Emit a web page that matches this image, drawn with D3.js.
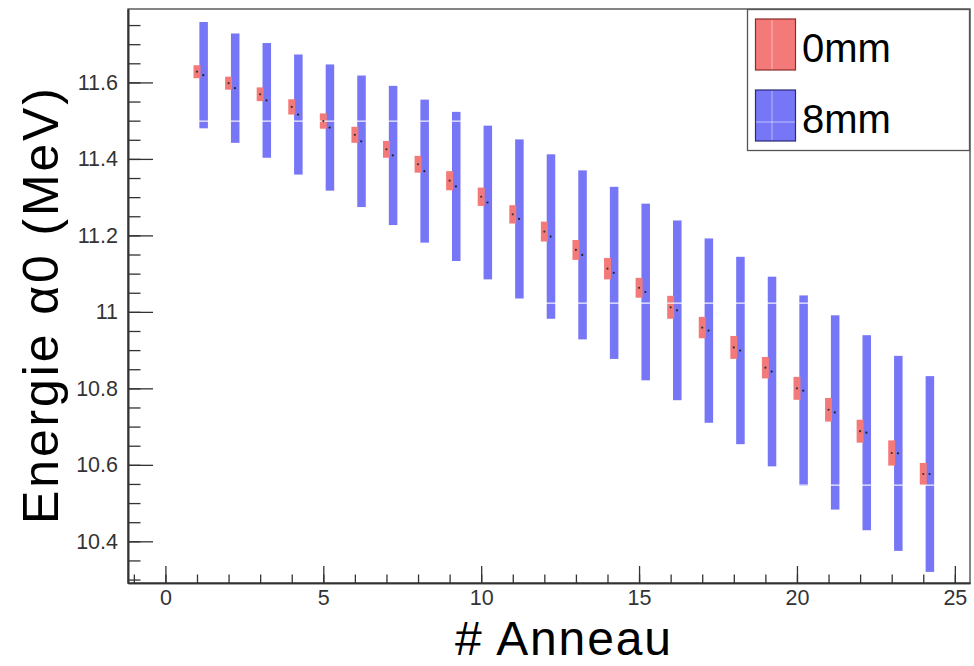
<!DOCTYPE html>
<html>
<head>
<meta charset="utf-8">
<script src="https://cdn.jsdelivr.net/npm/d3@7"></script>
<style>
  html, body { margin: 0; padding: 0; background: #fff; }
  svg { display: block; }
  text { font-family: "Liberation Sans", Arial, Helvetica, sans-serif; }
</style>
</head>
<body>
<svg id="chart" width="974" height="666"></svg>
<script>
// ---- data ----
const rings = d3.range(1, 25);
const energy0mm = [11.628, 11.598, 11.569, 11.536, 11.499, 11.463, 11.425, 11.386, 11.343, 11.301, 11.255, 11.210,
                   11.162, 11.113, 11.063, 11.012, 10.959, 10.907, 10.854, 10.800, 10.744, 10.688, 10.631, 10.576];
const err0mm    = [0.017, 0.017, 0.018, 0.020, 0.020, 0.021, 0.022, 0.022, 0.025, 0.024, 0.024, 0.026,
                   0.026, 0.028, 0.026, 0.030, 0.028, 0.030, 0.028, 0.030, 0.031, 0.030, 0.033, 0.029];
const energy8mm = [11.619, 11.585, 11.553, 11.516, 11.482, 11.446, 11.409, 11.368, 11.328, 11.286, 11.243, 11.197,
                   11.149, 11.102, 11.052, 11.004, 10.951, 10.899, 10.844, 10.794, 10.737, 10.684, 10.630, 10.576];
const err8mm    = [0.139, 0.143, 0.150, 0.157, 0.165, 0.172, 0.182, 0.187, 0.195, 0.201, 0.208, 0.215,
                   0.221, 0.225, 0.231, 0.235, 0.241, 0.245, 0.248, 0.249, 0.254, 0.255, 0.255, 0.256];
const seriesNames = ["0mm", "8mm"];
const xMajorTicks = [0, 5, 10, 15, 20, 25];
const yMajorTicks = [10.4, 10.6, 10.8, 11.0, 11.2, 11.4, 11.6];
const xTitle = "# Anneau";
const yTitle = "Energie α0 (MeV)";

// ---- layout ----
const frame = { left: 128, right: 970, top: 9, bottom: 583 };
const xDomain = [-1.185, 25.48];
const yDomain = [10.291, 11.792];
const redBox = [-0.11, 0.11];      // x extent of 0mm boxes around ring number
const blueBox = [0.075, 0.345];    // x extent of 8mm boxes
const blueMarkerShift = 0.2;
const colRed = "#f47a7a", colBlue = "#7676f6";

const svg = d3.select("#chart");
const x = d3.scaleLinear().domain(xDomain).range([frame.left, frame.right]);
const y = d3.scaleLinear().domain(yDomain).range([frame.bottom, frame.top]);

// texture artefact: faint white lines every 182px (as in source)
const defs = svg.append("defs");
function pat(id, col) {
  const p = defs.append("pattern").attr("id", id).attr("patternUnits", "userSpaceOnUse")
    .attr("width", 974).attr("height", 182);
  p.append("rect").attr("width", 974).attr("height", 182).attr("fill", col);
  p.append("rect").attr("y", 120.5).attr("width", 974).attr("height", 1.3).attr("fill", "#fff").attr("opacity", 0.85);
}
pat("pBlue", colBlue);
pat("pRed", colRed);

const plot = svg.append("g");

// 8mm boxes
plot.selectAll("rect.b8").data(rings).join("rect").attr("class", "b8")
  .attr("x", (d) => x(d + blueBox[0]))
  .attr("width", (d) => x(d + blueBox[1]) - x(d + blueBox[0]))
  .attr("y", (d, i) => y(energy8mm[i] + err8mm[i]))
  .attr("height", (d, i) => y(energy8mm[i] - err8mm[i]) - y(energy8mm[i] + err8mm[i]))
  .attr("fill", "url(#pBlue)");

// 0mm boxes
plot.selectAll("rect.b0").data(rings).join("rect").attr("class", "b0")
  .attr("x", (d) => x(d + redBox[0]))
  .attr("width", (d) => x(d + redBox[1]) - x(d + redBox[0]))
  .attr("y", (d, i) => y(energy0mm[i] + err0mm[i]))
  .attr("height", (d, i) => y(energy0mm[i] - err0mm[i]) - y(energy0mm[i] + err0mm[i]))
  .attr("fill", "url(#pRed)");

// markers
plot.selectAll("circle.m0").data(rings).join("circle").attr("class", "m0")
  .attr("cx", (d) => x(d)).attr("cy", (d, i) => y(energy0mm[i])).attr("r", 1.1).attr("fill", "#333");
plot.selectAll("circle.m8").data(rings).join("circle").attr("class", "m8")
  .attr("cx", (d) => x(d + blueMarkerShift)).attr("cy", (d, i) => y(energy8mm[i])).attr("r", 1.1).attr("fill", "#222");

// frame
svg.append("rect").attr("x", frame.left).attr("y", frame.top)
  .attr("width", frame.right - frame.left).attr("height", frame.bottom - frame.top)
  .attr("fill", "none").attr("stroke", "#444").attr("stroke-width", 1.3);

// axes
const axisCol = "#333";
const yMinor = d3.range(10.30, 11.79, 0.05).map((v) => +v.toFixed(2));
const xMinor = d3.range(-1, 26, 1).filter((v) => v >= xDomain[0] && v <= xDomain[1]);

const yAxisMinor = svg.append("g").attr("transform", `translate(${frame.left},0)`)
  .call(d3.axisLeft(y).tickValues(yMinor).tickSizeInner(-12.5).tickSizeOuter(0).tickFormat(""));
const yAxis = svg.append("g").attr("transform", `translate(${frame.left},0)`)
  .call(d3.axisLeft(y).tickValues(yMajorTicks).tickSizeInner(-25).tickSizeOuter(0).tickPadding(10)
    .tickFormat((d) => String(+d.toFixed(1))));
const xAxisMinor = svg.append("g").attr("transform", `translate(0,${frame.bottom})`)
  .call(d3.axisBottom(x).tickValues(xMinor).tickSizeInner(-8.5).tickSizeOuter(0).tickFormat(""));
const xAxis = svg.append("g").attr("transform", `translate(0,${frame.bottom})`)
  .call(d3.axisBottom(x).tickValues(xMajorTicks).tickSizeInner(-17).tickSizeOuter(0).tickPadding(6)
    .tickFormat(d3.format("d")));

[yAxisMinor, yAxis, xAxisMinor, xAxis].forEach((g) => {
  g.select(".domain").attr("stroke", axisCol).attr("stroke-width", 1.6);
  g.selectAll(".tick line").attr("stroke", axisCol).attr("stroke-width", 1.3);
  g.selectAll(".tick text").attr("fill", "#333").attr("font-size", 21.5)
    .attr("font-family", '"Liberation Sans", Arial, sans-serif');
});
xAxis.selectAll(".tick text").attr("dy", "0.75em");

// titles
svg.append("text").attr("x", 563).attr("y", 655).attr("text-anchor", "middle")
  .attr("font-size", 48).attr("fill", "#000")
  .attr("textLength", 216).attr("lengthAdjust", "spacing").text(xTitle);
svg.append("text").attr("transform", "translate(58,306) rotate(-90)").attr("text-anchor", "middle")
  .attr("font-size", 50).attr("fill", "#000")
  .attr("textLength", 436).attr("lengthAdjust", "spacing").text(yTitle);

// legend
const lg = svg.append("g");
lg.append("rect").attr("x", 747.5).attr("y", 9.5).attr("width", 222).attr("height", 141)
  .attr("fill", "#fff").attr("stroke", "#555").attr("stroke-width", 1.3);
const legendColors = [colRed, colBlue];
const legendStroke = ["#8a2a2a", "#2a2a7a"];
seriesNames.forEach((name, k) => {
  const gy = 19 + k * 71;
  lg.append("rect").attr("x", 755.5).attr("y", gy).attr("width", 40).attr("height", 51)
    .attr("fill", legendColors[k]).attr("stroke", legendStroke[k]).attr("stroke-width", 1.2);
  lg.append("line").attr("x1", 772).attr("x2", 772).attr("y1", gy + 1).attr("y2", gy + 50)
    .attr("stroke", "#fff").attr("stroke-width", 0.8).attr("opacity", 0.6);
  if (k === 1) {
    lg.append("line").attr("x1", 756).attr("x2", 795).attr("y1", gy + 32).attr("y2", gy + 32)
      .attr("stroke", "#fff").attr("stroke-width", 0.8).attr("opacity", 0.7);
  }
  lg.append("text").attr("x", 802).attr("y", gy + 43).attr("font-size", 40).attr("fill", "#000").text(name);
});
</script>
</body>
</html>
